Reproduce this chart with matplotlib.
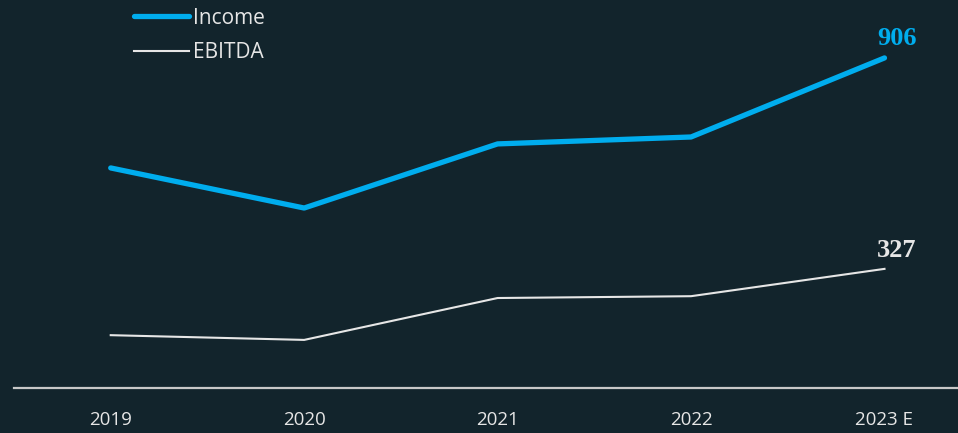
import matplotlib
matplotlib.use("Agg")
import matplotlib.pyplot as plt
from matplotlib import font_manager

years = ["2019", "2020", "2021", "2022", "2023 E"]
income = [604, 494, 670, 689, 906]
ebitda = [145, 132, 247, 252, 327]

BG = "#12242c"
BLUE = "#00adee"
WHITE = "#e6e6e6"
GRID = "#c8c8c8"

names = {f.name for f in font_manager.fontManager.ttflist}
sans = "Liberation Sans Narrow" if "Liberation Sans Narrow" in names else "Open Sans"

W, H = 958, 433
fig = plt.figure(figsize=(W / 100, H / 100), dpi=100, facecolor=BG)
ax = fig.add_axes([14 / W, (H - 388) / H, 1 - 14 / W, 388 / H])
ax.set_facecolor(BG)

x = list(range(len(years)))
ax.plot(x, income, color=BLUE, lw=3.8, solid_capstyle="round", label="Income", zorder=3)
ax.plot(x, ebitda, color=WHITE, lw=1.5, label="EBITDA", zorder=3)

ax.set_xlim(-0.5, 4.38)
ax.set_ylim(0, 1065)

for s in ["top", "right", "left"]:
    ax.spines[s].set_visible(False)
ax.spines["bottom"].set_color(GRID)
ax.spines["bottom"].set_linewidth(1.6)
ax.set_yticks([])
ax.set_xticks(x)
ax.set_xticklabels(years, family=sans, fontsize=13.5, color=WHITE)
ax.tick_params(axis="x", length=0, pad=16.5)

ax.annotate(f"{income[-1]}", (x[-1], income[-1]), xytext=(9, 5.5), textcoords="offset points",
            ha="center", va="bottom", color=BLUE, fontsize=19, fontweight="bold",
            family="Liberation Serif")
ax.annotate(f"{ebitda[-1]}", (x[-1], ebitda[-1]), xytext=(9, 5), textcoords="offset points",
            ha="center", va="bottom", color=WHITE, fontsize=19, fontweight="bold",
            family="Liberation Serif")

leg = fig.legend(loc="upper left", bbox_to_anchor=(121 / W, 1.0 + 5 / H), frameon=False,
                 handlelength=2.65, handletextpad=0.2, labelspacing=0.65,
                 prop={"family": sans, "size": 15}, labelcolor=WHITE, borderpad=0.1)

fig.savefig("out.png", dpi=100, facecolor=BG)
